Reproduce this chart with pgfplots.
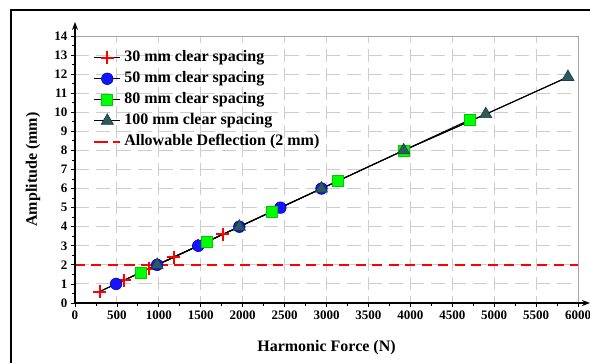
\documentclass[border=0pt]{standalone}
\usepackage{pgfplots}
\pgfplotsset{compat=1.18}
\usepackage{fontspec}
\setmainfont{Liberation Serif}
\usetikzlibrary{arrows.meta}
\definecolor{gridgray}{RGB}{205,205,205}
\definecolor{boxgray}{RGB}{165,165,165}
\definecolor{limeg}{RGB}{0,255,0}
\definecolor{limeedge}{RGB}{0,200,0}
\definecolor{slate}{RGB}{45,90,90}
\definecolor{slateedge}{RGB}{25,60,60}
\definecolor{bluefill}{RGB}{20,20,255}
\definecolor{blueedge}{RGB}{0,0,190}
\definecolor{redm}{RGB}{255,0,0}
\pgfplotsset{dashlegend/.style={legend image code/.code={\draw[redm, line width=2pt, dash pattern=on 14pt off 5pt] (0pt,0pt) -- (26pt,0pt);}}}
\begin{document}
\begin{tikzpicture}[x=1pt,y=1pt]
\useasboundingbox (0,0) rectangle (590,363);
\draw[line width=1.5pt] (11,0) -- (11,353) -- (590,353);
\begin{axis}[
  name=ax,
  at={(75pt,60pt)}, anchor=south west,
  scale only axis, width=503pt, height=267pt,
  xmin=0, xmax=6000, ymin=0, ymax=14,
  xtick={0,500,...,6000}, ytick={0,1,...,14},
  minor x tick num=1, minor y tick num=1,
  scaled x ticks=false,
  xticklabel style={/pgf/number format/1000 sep={}},
  /pgf/number format/assume math mode=true,
  ticklabel style={font=\bfseries\fontsize{13}{15}\selectfont},
  tick align=outside, xtick pos=left, ytick pos=left,
  major tick length=4pt, minor tick length=3pt,
  tick style={black, line width=0.8pt},
  axis line style={boxgray, line width=0.8pt},
  grid=major,
  x grid style={gridgray, line width=0.9pt, dash pattern=on 13.07pt off 6pt, dash phase=6.535pt},
  y grid style={gridgray, line width=0.9pt, dash pattern=on 14pt off 6.958pt},
  xlabel={Harmonic Force (N)},
  ylabel={Amplitude (mm)},
  label style={font=\bfseries\fontsize{16}{18}\selectfont},
  xlabel style={at={(axis description cs:0.5,-0.1685)}, anchor=center},
  ylabel style={at={(axis description cs:-0.0835,0.5)}, anchor=center},
  legend cell align=left,
  legend style={draw=none, fill=none, at={(0.03,0.966)}, anchor=north west,
    font=\bfseries\fontsize{16}{18}\selectfont,
    nodes={inner xsep=3pt, inner ysep=3pt, text height=11pt, text depth=4pt}},
  legend image code/.code={\draw[mark repeat=2,mark phase=2,#1] plot coordinates {(0pt,0pt) (13pt,0pt) (26pt,0pt)};},
  clip=false,
]
\addplot[redm, line width=2pt, dash pattern=on 10pt off 6.5pt, forget plot] coordinates {(0,2) (6000,2)};
\addplot[black, line width=1pt, mark=+, mark size=6.5pt, mark options={redm, line width=2pt, solid}] coordinates {
(294,0.6) (588,1.2) (882,1.8) (1176,2.4) (1470,3.0) (1764,3.6)};
\addlegendentry{30 mm clear spacing}
\addplot[black, line width=1pt, mark=*, mark size=5.8pt, mark options={fill=bluefill, draw=blueedge, line width=0.6pt, solid}] coordinates {
(490,1) (980,2) (1470,3) (1960,4) (2450,5) (2940,6)};
\addlegendentry{50 mm clear spacing}
\addplot[black, line width=1pt, mark=square*, mark size=5.5pt, mark options={fill=limeg, draw=limeedge, line width=0.6pt, solid}] coordinates {
(784,1.6) (1568,3.2) (2352,4.8) (3136,6.4) (3920,8.0) (4704,9.6)};
\addlegendentry{80 mm clear spacing}
\addplot[black, line width=1pt, mark=triangle*, mark size=7pt, mark options={fill=slate, draw=slateedge, line width=0.6pt, solid}] coordinates {
(980,2) (1960,4) (2940,6) (3920,8) (4900,9.9) (5880,11.85)};
\addlegendentry{100 mm clear spacing}
\addplot[black, line width=1pt, forget plot] coordinates {
(294,0.6) (980,2) (1960,4) (2940,6) (3920,8) (4900,9.9) (5880,11.85)};
\addlegendimage{dashlegend}
\addlegendentry{Allowable Deflection (2 mm)}
\end{axis}
\draw[black, line width=1.2pt, -{Stealth[length=8pt,width=6pt]}] (ax.south west) -- ++(515,0);
\draw[black, line width=1.2pt, -{Stealth[length=8pt,width=6pt]}] (ax.south west) -- ++(0,281);
\end{tikzpicture}
\end{document}
